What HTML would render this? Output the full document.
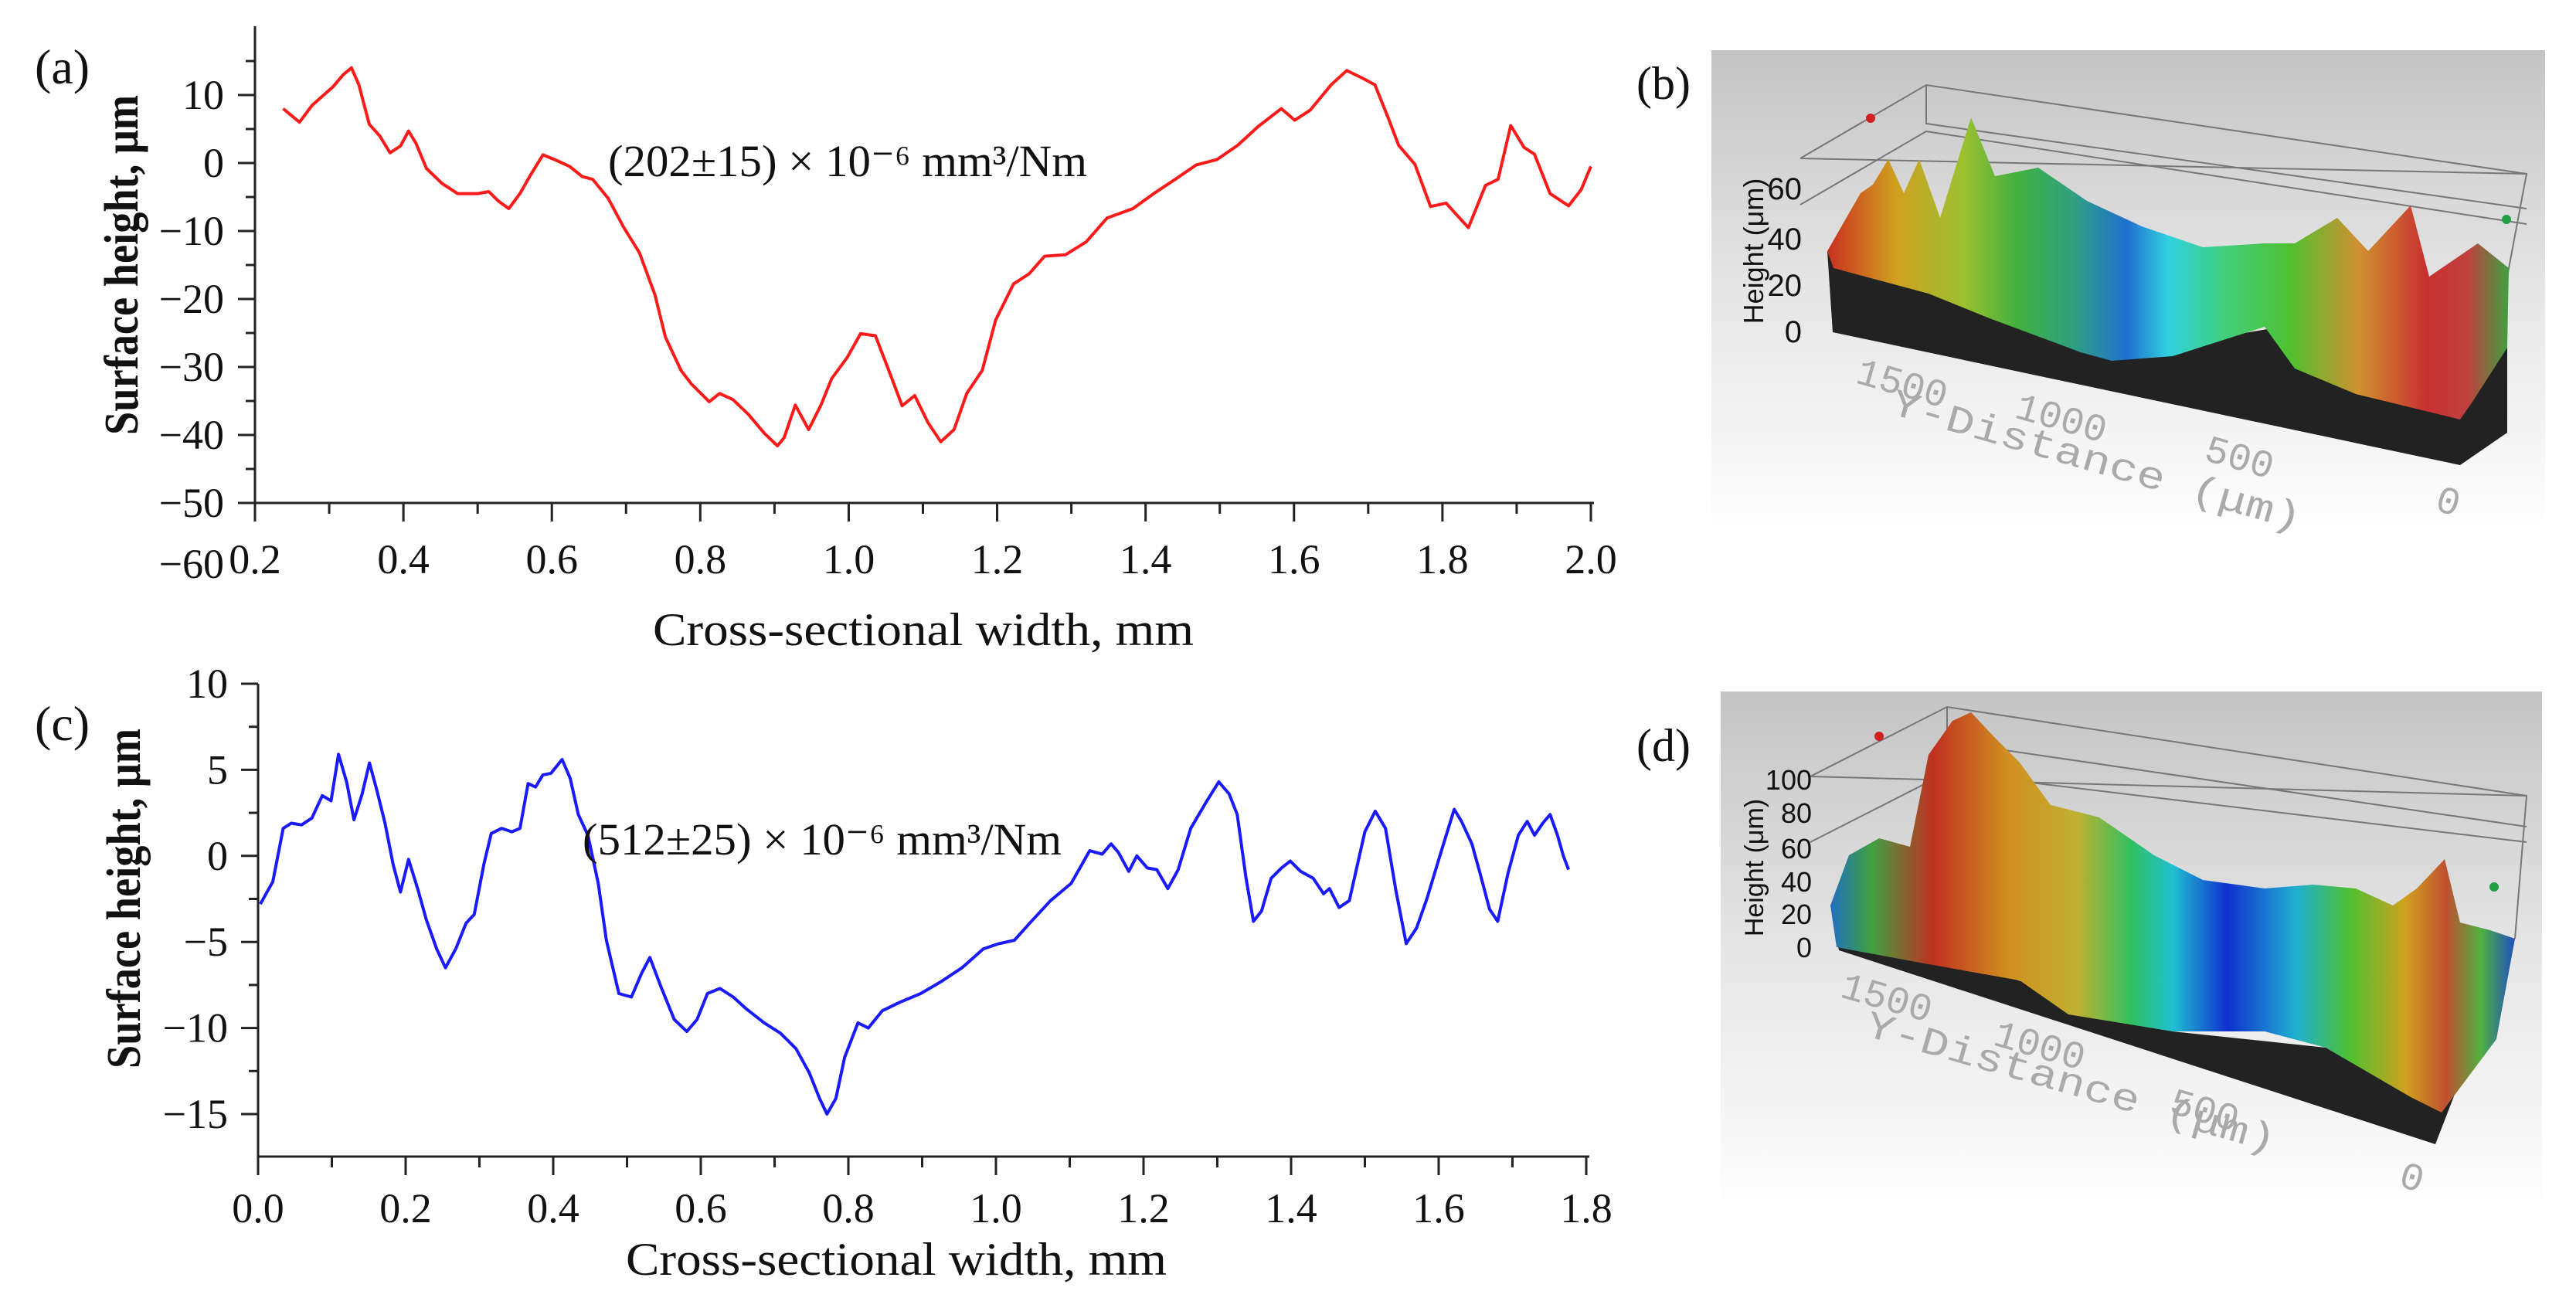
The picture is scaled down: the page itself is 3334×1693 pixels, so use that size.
<!DOCTYPE html>
<html><head><meta charset="utf-8"><style>
html,body{margin:0;padding:0;background:#fff}
svg{display:block}
text{font-family:"Liberation Serif",serif;fill:#111}
.m{font-family:"Liberation Mono",monospace;fill:#aaa}
.s{font-family:"Liberation Sans",sans-serif;fill:#111}
</style></head><body>
<svg id="fig" width="3334" height="1693" viewBox="0 0 3334 1693">
<defs>
<linearGradient id="bgG" x1="0" y1="0" x2="0" y2="1"><stop offset="0" stop-color="#c4c4c4"/><stop offset="0.5" stop-color="#e6e6e6"/><stop offset="1" stop-color="#ffffff"/></linearGradient>
<linearGradient id="surfB" gradientUnits="userSpaceOnUse" x1="2365" y1="0" x2="3247" y2="0"><stop offset="0" stop-color="#c83020"/><stop offset="0.1" stop-color="#d0a020"/><stop offset="0.2" stop-color="#9cc030"/><stop offset="0.28" stop-color="#40b040"/><stop offset="0.36" stop-color="#30a080"/><stop offset="0.44" stop-color="#2070d0"/><stop offset="0.5" stop-color="#30d0e0"/><stop offset="0.58" stop-color="#40d080"/><stop offset="0.68" stop-color="#50c030"/><stop offset="0.78" stop-color="#d09030"/><stop offset="0.88" stop-color="#c83030"/><stop offset="0.94" stop-color="#c04040"/><stop offset="1" stop-color="#40a040"/></linearGradient>
<linearGradient id="surfD" gradientUnits="userSpaceOnUse" x1="2369" y1="0" x2="3255" y2="0"><stop offset="0" stop-color="#2070c0"/><stop offset="0.06" stop-color="#40a040"/><stop offset="0.15" stop-color="#c03020"/><stop offset="0.26" stop-color="#d09020"/><stop offset="0.36" stop-color="#c0b030"/><stop offset="0.44" stop-color="#30c060"/><stop offset="0.5" stop-color="#20c0d0"/><stop offset="0.58" stop-color="#1030d0"/><stop offset="0.68" stop-color="#20b0d0"/><stop offset="0.76" stop-color="#50c030"/><stop offset="0.84" stop-color="#d0a020"/><stop offset="0.9" stop-color="#c05030"/><stop offset="0.95" stop-color="#50b040"/><stop offset="1" stop-color="#2050c0"/></linearGradient>
</defs>

<g id="pa"></g>
<g id="pc"></g>

<g>
<rect x="2215" y="65" width="1079" height="629" fill="url(#bgG)"/>
<g stroke="#777" stroke-width="2" fill="none">
<polyline points="2330,205 2493,110 3270,225 3245,358"/><polyline points="2330,205 3270,225"/><polyline points="2493,110 2493,160 3270,270"/><polyline points="2330,265 2493,170 3270,290"/>
</g>
<circle cx="2421" cy="153" r="6" fill="#d02020"/>
<circle cx="3244" cy="284" r="6" fill="#20a040"/>
<polygon points="2365,325 2372,430 3184,602 3245,560 3245,450 2970,420 2733,460" fill="#222"/>
<path d="M2365,325 L2408,250 L2424,239 L2444,206 L2464,250 L2484,206 L2511,282 L2551,152 L2582,228 L2638,217 L2701,260 L2772,293 L2851,320 L2931,315 L2970,315 L3025,282 L3065,325 L3120,266 L3144,358 L3207,315 L3247,347 L3245,450 L3200,520 L3184,543 L3049,510 L2970,477 L2931,423 L2812,461 L2733,467 L2693,456 L2575,412 L2496,380 L2373,347 Z" fill="url(#surfB)"/>
<text class="s" x="2282" y="325" font-size="36" transform="rotate(-90 2282 325)" text-anchor="middle">Height (μm)</text>
<g font-size="40" text-anchor="end">
<text class="s" x="2332" y="258">60</text><text class="s" x="2332" y="323">40</text><text class="s" x="2332" y="383">20</text><text class="s" x="2332" y="443">0</text></g>
<g font-size="50">
<text class="m" x="2400" y="495" transform="rotate(16 2400 495)">1500</text>
<text class="m" x="2606" y="540" transform="rotate(16 2606 540)">1000</text>
<text class="m" x="2851" y="595" transform="rotate(16 2851 595)">500</text>
<text class="m" x="2445" y="535" transform="rotate(16 2445 535)" textLength="550" lengthAdjust="spacingAndGlyphs">Y-Distance (μm)</text>
<text class="m" x="3150" y="660" transform="rotate(16 3150 660)">0</text></g>
<text x="2118" y="128" font-size="60">(b)</text>
</g>

<g>
<rect x="2227" y="895" width="1063" height="678" fill="url(#bgG)"/>
<g stroke="#777" stroke-width="2" fill="none">
<polyline points="2343,1005 2520,915 3270,1030 3255,1215"/><polyline points="2343,1005 3270,1030"/><polyline points="2343,1090 2520,1000 3270,1090"/><polyline points="2520,915 2520,960 3270,1070"/>
</g>
<circle cx="2432" cy="953" r="6" fill="#d02020"/>
<circle cx="3228" cy="1148" r="6" fill="#20a040"/>
<polygon points="2373,1190 2380,1230 3152,1481 3255,1215 3010,1356 2812,1335" fill="#222"/>
<path d="M2369,1172 L2393,1107 L2432,1085 L2472,1096 L2496,977 L2527,933 L2551,922 L2582,955 L2614,987 L2654,1042 L2717,1058 L2788,1107 L2851,1139 L2931,1150 L2994,1145 L3049,1150 L3097,1172 L3128,1150 L3164,1112 L3184,1194 L3223,1204 L3255,1215 L3231,1345 L3160,1440 L3120,1420 L3010,1356 L2931,1335 L2812,1335 L2677,1313 L2614,1269 L2496,1248 L2377,1226 Z" fill="url(#surfD)"/>
<text class="s" x="2282" y="1123" font-size="34" transform="rotate(-90 2282 1123)" text-anchor="middle">Height (μm)</text>
<g font-size="36" text-anchor="end">
<text class="s" x="2345" y="1022">100</text><text class="s" x="2345" y="1065">80</text><text class="s" x="2345" y="1111">60</text><text class="s" x="2345" y="1154">40</text><text class="s" x="2345" y="1196">20</text><text class="s" x="2345" y="1239">0</text></g>
<g font-size="50">
<text class="m" x="2380" y="1290" transform="rotate(16 2380 1290)">1500</text>
<text class="m" x="2578" y="1352" transform="rotate(16 2578 1352)">1000</text>
<text class="m" x="2806" y="1440" transform="rotate(16 2806 1440)">500</text>
<text class="m" x="2412" y="1340" transform="rotate(16 2412 1340)" textLength="550" lengthAdjust="spacingAndGlyphs">Y-Distance (μm)</text>
<text class="m" x="3103" y="1535" transform="rotate(16 3103 1535)">0</text></g>
<text x="2118" y="985" font-size="60">(d)</text>
</g>
</svg>
<script>
const aX = [0.238,0.26,0.277,0.305,0.319,0.33,0.34,0.354,0.368,0.382,0.396,0.407,0.417,0.431,0.452,0.473,0.5,0.515,0.528,0.542,0.557,0.57,0.588,0.606,0.624,0.641,0.655,0.676,0.697,0.718,0.739,0.753,0.774,0.788,0.812,0.826,0.844,0.865,0.886,0.904,0.913,0.928,0.946,0.963,0.977,0.998,1.016,1.036,1.054,1.072,1.089,1.107,1.124,1.142,1.159,1.18,1.198,1.222,1.243,1.264,1.292,1.32,1.348,1.383,1.411,1.44,1.468,1.496,1.524,1.552,1.583,1.601,1.622,1.65,1.671,1.692,1.709,1.727,1.741,1.763,1.784,1.805,1.819,1.835,1.858,1.875,1.892,1.91,1.924,1.945,1.97,1.987,2.0];
const aY = [8,6,8.5,11.2,13,14,11.5,5.7,4,1.5,2.5,4.7,2.9,-0.8,-3,-4.5,-4.5,-4.2,-5.6,-6.7,-4.5,-2,1.2,0.4,-0.5,-2,-2.4,-5.2,-9.5,-13.2,-19.4,-25.6,-30.5,-32.5,-35.1,-33.9,-34.8,-37,-39.7,-41.6,-40.4,-35.6,-39.2,-35.5,-31.7,-28.6,-25.1,-25.4,-30.5,-35.7,-34.2,-38.2,-41,-39.2,-33.9,-30.5,-23.1,-17.8,-16.3,-13.7,-13.5,-11.6,-8.1,-6.7,-4.5,-2.4,-0.3,0.5,2.6,5.4,8,6.3,7.8,11.5,13.6,12.5,11.5,6.6,2.6,-0.2,-6.4,-5.9,-7.6,-9.5,-3.3,-2.4,5.5,2.3,1.3,-4.5,-6.3,-3.9,-0.5];
const cX = [0.003,0.02,0.034,0.045,0.059,0.073,0.087,0.099,0.109,0.12,0.13,0.141,0.151,0.161,0.172,0.183,0.193,0.204,0.217,0.228,0.242,0.254,0.268,0.282,0.293,0.306,0.316,0.33,0.344,0.355,0.366,0.376,0.386,0.397,0.412,0.423,0.434,0.447,0.461,0.472,0.489,0.506,0.52,0.531,0.546,0.564,0.581,0.595,0.609,0.626,0.644,0.662,0.686,0.708,0.729,0.747,0.761,0.771,0.783,0.795,0.813,0.827,0.846,0.87,0.898,0.926,0.954,0.983,1.004,1.025,1.046,1.074,1.102,1.127,1.144,1.156,1.166,1.18,1.191,1.205,1.218,1.233,1.247,1.264,1.286,1.302,1.316,1.327,1.339,1.349,1.36,1.373,1.387,1.399,1.413,1.43,1.444,1.452,1.465,1.479,1.49,1.5,1.514,1.528,1.542,1.556,1.57,1.584,1.603,1.621,1.631,1.645,1.656,1.669,1.68,1.694,1.708,1.72,1.73,1.741,1.751,1.761,1.769,1.776];
const cY = [-2.8,-1.5,1.6,1.9,1.8,2.2,3.5,3.2,5.9,4.3,2.1,3.6,5.4,3.8,1.9,-0.5,-2.1,-0.2,-2,-3.7,-5.4,-6.5,-5.4,-3.9,-3.4,-0.5,1.3,1.6,1.4,1.6,4.2,4,4.7,4.8,5.6,4.5,2.4,1.2,-1.6,-4.9,-8,-8.2,-6.8,-5.9,-7.6,-9.5,-10.2,-9.5,-8,-7.7,-8.2,-8.9,-9.7,-10.3,-11.2,-12.6,-14.1,-15,-14.1,-11.7,-9.7,-10,-9,-8.5,-8,-7.3,-6.5,-5.4,-5.1,-4.9,-3.9,-2.6,-1.6,0.3,0.1,0.7,0.2,-0.9,0,-0.7,-0.8,-1.9,-0.8,1.6,3.2,4.3,3.6,2.4,-1.3,-3.8,-3.2,-1.3,-0.7,-0.3,-0.9,-1.3,-2.2,-1.9,-3,-2.6,-0.5,1.4,2.6,1.6,-2,-5.1,-4.2,-2.5,0.2,2.7,2,0.7,-1,-3.1,-3.8,-1,1.2,2,1.2,1.9,2.4,1.2,0,-0.8];
const aXTicks = ["0.2","0.4","0.6","0.8","1.0","1.2","1.4","1.6","1.8","2.0"];
const aYTicks = ["10","0","−10","−20","−30","−40","−50"];
const cXTicks = ["0.0","0.2","0.4","0.6","0.8","1.0","1.2","1.4","1.6","1.8"];
const cYTicks = ["10","5","0","−5","−10","−15"];
const NS="http://www.w3.org/2000/svg";
function mk(p,tag,at,txt){const e=document.createElementNS(NS,tag);for(const k in at)e.setAttribute(k,at[k]);if(txt!==undefined)e.textContent=txt;p.appendChild(e);return e;}
function panel(g,o){
  const sx=v=>o.x0+(v-o.xmin)/(o.xmax-o.xmin)*(o.x1-o.x0);
  const sy=v=>o.yA+(v-o.vA)/(o.vB-o.vA)*(o.yB-o.yA);
  const ax=mk(g,'path',{d:`M${o.x0},${o.top} V${o.axisY} H${o.x1+4}`,stroke:'#222','stroke-width':3,fill:'none'});
  
  
  for(let v=o.xmin;v<=o.xmax+1e-9;v+=o.xminor){
    const major=Math.abs(Math.round(v/o.xstep)*o.xstep-v)<1e-6;
    const t=mk(g,'line',{x1:sx(v),x2:sx(v),y1:o.axisY,y2:o.axisY+(major?24:14),stroke:'#222','stroke-width':3});
    
    
  }
  o.xt.forEach((s,i)=>{const v=parseFloat(s);const t=mk(g,'text',{x:sx(v),y:o.xlabY,'font-size':54,'text-anchor':'middle'},s);
    
    });
  for(let v=o.ymin;v<=o.ymax+1e-9;v+=o.yminor){
    const major=Math.abs(Math.round(v/o.ystep)*o.ystep-v)<1e-6;
    const t=mk(g,'line',{x1:o.x0,x2:o.x0-(major?22:12),y1:sy(v),y2:sy(v),stroke:'#222','stroke-width':3});
    
    
  }
  o.yt.forEach(s=>{const v=parseFloat(s.replace('−','-'));const t=mk(g,'text',{x:o.ylabX,y:sy(v)+18,'font-size':54,'text-anchor':'end'},s);
    
    });
  let d='';o.X.forEach((x,i)=>{d+=(i?'L':'M')+sx(x).toFixed(1)+','+sy(o.Y[i]).toFixed(1);});
  const ln=mk(g,'path',{d,stroke:o.color,'stroke-width':4,fill:'none','stroke-linejoin':'round'});
  
  
}
const pa=document.getElementById('pa'), pc=document.getElementById('pc');
panel(pa,{x0:330,x1:2059,xmin:0.2,xmax:2.0,xstep:0.2,xminor:0.1,yA:123,vA:10,yB:651,vB:-50,ymin:-50,ymax:15,ystep:10,yminor:5,top:34,axisY:651,xlabY:742,ylabX:290,xt:aXTicks,yt:aYTicks,X:aX,Y:aY,color:'#ff1a1a'});
panel(pc,{x0:334,x1:2053,xmin:0,xmax:1.8,xstep:0.2,xminor:0.1,yA:885,vA:10,yB:1442,vB:-15,ymin:-15,ymax:10,ystep:5,yminor:2.5,top:885,axisY:1497,xlabY:1582,ylabX:295,xt:cXTicks,yt:cYTicks,X:cX,Y:cY,color:'#1a1aff'});
let t;
t=mk(pa,'text',{x:290,y:748,'font-size':54,'text-anchor':'end'},'−60');


t=mk(pa,'text',{x:1195,y:835,'font-size':60,'text-anchor':'middle',textLength:700,lengthAdjust:'spacingAndGlyphs'},'Cross-sectional width, mm');


t=mk(pc,'text',{x:1160,y:1650,'font-size':60,'text-anchor':'middle',textLength:700,lengthAdjust:'spacingAndGlyphs'},'Cross-sectional width, mm');


t=mk(pa,'text',{x:178,y:343,'font-size':62,'font-weight':'bold','text-anchor':'middle',transform:'rotate(-90 178 343)',textLength:440,lengthAdjust:'spacingAndGlyphs'},'Surface height, μm');


t=mk(pc,'text',{x:181,y:1163,'font-size':62,'font-weight':'bold','text-anchor':'middle',transform:'rotate(-90 181 1163)',textLength:440,lengthAdjust:'spacingAndGlyphs'},'Surface height, μm');


t=mk(pa,'text',{x:787,y:228,'font-size':58,textLength:620,lengthAdjust:'spacingAndGlyphs'},'(202±15) × 10⁻⁶ mm³/Nm');


t=mk(pc,'text',{x:754,y:1106,'font-size':58,textLength:620,lengthAdjust:'spacingAndGlyphs'},'(512±25) × 10⁻⁶ mm³/Nm');


t=mk(pa,'text',{x:45,y:108,'font-size':64},'(a)');


t=mk(pc,'text',{x:45,y:958,'font-size':64},'(c)');


</script>
</body></html>
